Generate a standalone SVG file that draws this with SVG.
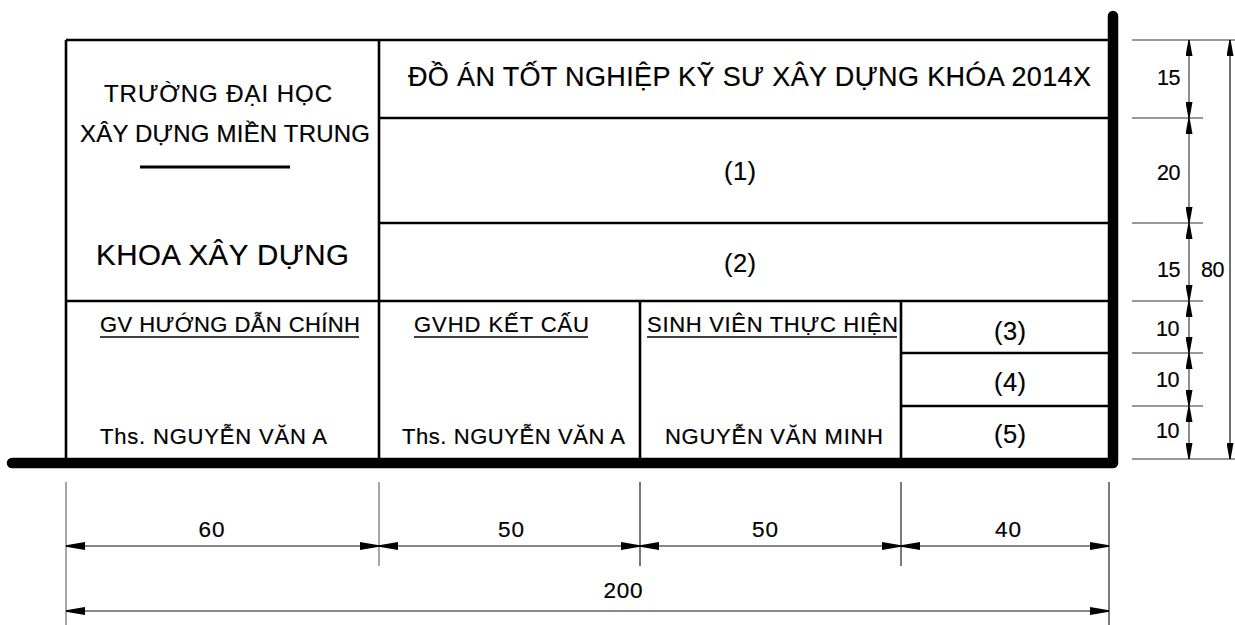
<svg xmlns="http://www.w3.org/2000/svg" width="1235" height="625" viewBox="0 0 1235 625">
<style>
text{font-family:"Liberation Sans",Arial,sans-serif;fill:#000;stroke:#000;stroke-width:0.2}
.frame{stroke:#000;stroke-width:2.6;fill:none}
.thick{stroke:#000;stroke-width:10.5;fill:none;stroke-linecap:round;stroke-linejoin:round}
.ext{stroke:#777;stroke-width:1.3;fill:none}
.extd{stroke:#333;stroke-width:1.3;fill:none}
.dimh{stroke:#111;stroke-width:1.2;fill:none;marker-start:url(#ah);marker-end:url(#ah)}
.dimv{stroke:#444;stroke-width:1.2;fill:none;marker-start:url(#av);marker-end:url(#av)}
.ul{stroke:#000;stroke-width:1.6}
.h{font-size:22px}
.d{font-size:22.5px}
.r{font-size:21.5px}
.c{font-size:25.5px}
</style>
<defs>
<marker id="ah" viewBox="0 0 19 8" refX="19" refY="4" markerWidth="19" markerHeight="8" markerUnits="userSpaceOnUse" orient="auto-start-reverse"><path d="M0 0L19 3.3L19 4.7L0 8Z" fill="#000"/></marker>
<marker id="av" viewBox="0 0 16 7" refX="16" refY="3.5" markerWidth="16" markerHeight="7" markerUnits="userSpaceOnUse" orient="auto-start-reverse"><path d="M0 0L16 2.9L16 4.1L0 7Z" fill="#000"/></marker>
</defs>
<g id="frame">
<path class="frame" d="M66 40H1113M66 40V463M379 40V463M379 118H1113M379 223H1113M66 301H1113M640 301V463M901 301V463M901 353H1113M901 406H1113"/>
<path class="thick" d="M1113 16V463H12"/>
</g>
<g id="school">
<text x="104" y="102" font-size="24" textLength="228" lengthAdjust="spacing">TRƯỜNG ĐẠI HỌC</text>
<text x="80" y="142" font-size="24" textLength="290" lengthAdjust="spacing">XÂY DỰNG MIỀN TRUNG</text>
<line x1="140" y1="167" x2="290" y2="167" stroke="#000" stroke-width="3"/>
<text x="96" y="265" font-size="29.5" textLength="253" lengthAdjust="spacing">KHOA XÂY DỰNG</text>
</g>
<g id="title">
<text x="408" y="86" font-size="27" textLength="683" lengthAdjust="spacing">ĐỒ ÁN TỐT NGHIỆP KỸ SƯ XÂY DỰNG KHÓA 2014X</text>
</g>
<g id="cell1"><text class="c" x="724" y="180" textLength="32" lengthAdjust="spacing">(1)</text></g>
<g id="cell2"><text class="c" x="724" y="272" textLength="32" lengthAdjust="spacing">(2)</text></g>
<g id="gvhd-chinh">
<text class="h" x="100" y="332" textLength="260" lengthAdjust="spacing">GV HƯỚNG DẪN CHÍNH</text>
<line class="ul" x1="100" y1="337" x2="359" y2="337"/>
<text class="h" x="100" y="444" textLength="227" lengthAdjust="spacing">Ths. NGUYỄN VĂN A</text>
</g>
<g id="gvhd-ketcau">
<text class="h" x="414" y="332" textLength="175" lengthAdjust="spacing">GVHD KẾT CẤU</text>
<line class="ul" x1="414" y1="337" x2="588" y2="337"/>
<text class="h" x="402" y="444" textLength="223" lengthAdjust="spacing">Ths. NGUYỄN VĂN A</text>
</g>
<g id="sinhvien">
<text class="h" x="647" y="332" textLength="251" lengthAdjust="spacing">SINH VIÊN THỰC HIỆN</text>
<line class="ul" x1="647" y1="337" x2="897" y2="337"/>
<text class="h" x="665" y="444" textLength="218" lengthAdjust="spacing">NGUYỄN VĂN MINH</text>
</g>
<g id="cell3"><text class="c" x="994" y="340" textLength="32" lengthAdjust="spacing">(3)</text></g>
<g id="cell4"><text class="c" x="994" y="391" textLength="32" lengthAdjust="spacing">(4)</text></g>
<g id="cell5"><text class="c" x="994" y="443" textLength="32" lengthAdjust="spacing">(5)</text></g>
<g id="connectors">
<path class="ext" d="M1132 40H1240M1132 118H1203M1132 223H1203M1132 301H1203M1132 353H1203M1132 406H1203M1132 459H1240"/>
<line class="dimv" x1="1189" y1="40" x2="1189" y2="118"/>
<line class="dimv" x1="1189" y1="118" x2="1189" y2="223"/>
<line class="dimv" x1="1189" y1="223" x2="1189" y2="301"/>
<line class="dimv" x1="1189" y1="301" x2="1189" y2="353"/>
<line class="dimv" x1="1189" y1="353" x2="1189" y2="406"/>
<line class="dimv" x1="1189" y1="406" x2="1189" y2="459"/>
<line class="dimv" x1="1230" y1="40" x2="1230" y2="459" style="stroke:#111"/>
<path class="ext" d="M66 482V625M379 482V566"/>
<path class="extd" d="M640 482V566M901 482V566M1109 482V625"/>
<line class="dimh" x1="66" y1="546" x2="379" y2="546"/>
<line class="dimh" x1="379" y1="546" x2="640" y2="546"/>
<line class="dimh" x1="640" y1="546" x2="901" y2="546"/>
<line class="dimh" x1="901" y1="546" x2="1109" y2="546"/>
<line class="dimh" x1="66" y1="611" x2="1109" y2="611"/>
</g>
<g id="dim-labels">
<text class="r" x="1157" y="85" textLength="23.5" lengthAdjust="spacing">15</text>
<text class="r" x="1157" y="180" textLength="23.5" lengthAdjust="spacing">20</text>
<text class="r" x="1157" y="277" textLength="23.5" lengthAdjust="spacing">15</text>
<text class="r" x="1201" y="277" textLength="23.5" lengthAdjust="spacing">80</text>
<text class="r" x="1156" y="336" textLength="23.5" lengthAdjust="spacing">10</text>
<text class="r" x="1156" y="387" textLength="23.5" lengthAdjust="spacing">10</text>
<text class="r" x="1156" y="438" textLength="23.5" lengthAdjust="spacing">10</text>
<text class="d" x="198.5" y="537" textLength="26" lengthAdjust="spacing">60</text>
<text class="d" x="498" y="537" textLength="26" lengthAdjust="spacing">50</text>
<text class="d" x="752" y="537" textLength="26" lengthAdjust="spacing">50</text>
<text class="d" x="995" y="537" textLength="26" lengthAdjust="spacing">40</text>
<text class="d" x="603.5" y="598" textLength="39" lengthAdjust="spacing">200</text>
</g>
</svg>
